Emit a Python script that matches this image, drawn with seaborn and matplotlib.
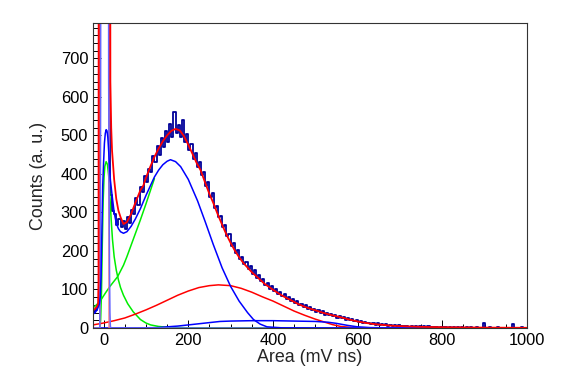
import matplotlib
matplotlib.use("Agg")
import matplotlib.pyplot as plt
from matplotlib.ticker import MultipleLocator
import numpy as np
import pandas as pd
import seaborn as sns

# histogram: 5 mV ns bins from -25 to 1000
bin_lo, bin_hi, bin_w = -25, 1000, 5
counts = [
    42, 47, 60, 1500, 3000, 3000, 3000, 1800, 345, 305,
    296, 268, 284, 262, 279, 258, 288, 272, 306, 297,
    338, 320, 366, 352, 395, 380, 414, 404, 446, 430,
    472, 449, 493, 470, 512, 482, 531, 497, 560, 506,
    528, 496, 540, 484, 503, 462, 478, 438, 455, 418,
    430, 398, 405, 370, 378, 340, 350, 312, 318, 288,
    292, 262, 268, 240, 244, 214, 220, 196, 203, 180,
    185, 165, 172, 152, 160, 141, 150, 131, 137, 121,
    128, 112, 118, 101, 108, 96, 102, 88, 94, 82,
    88, 76, 81, 70, 75, 64, 69, 59, 63, 55,
    59, 50, 54, 46, 50, 42, 47, 39, 43, 35,
    39, 33, 36, 30, 33, 27, 31, 25, 28, 22,
    25, 20, 23, 17, 20, 15, 18, 13, 16, 12,
    14, 10, 13, 9, 12, 8, 11, 7, 10, 6,
    9, 5, 8, 5, 7, 4, 6, 4, 6, 3,
    5, 3, 5, 2, 4, 3, 4, 2, 4, 2,
    3, 2, 3, 1, 3, 2, 2, 1, 3, 1,
    2, 1, 2, 1, 3, 1, 2, 1, 2, 1,
    1, 2, 1, 1, 14, 1, 1, 2, 1, 1,
    1, 2, 1, 1, 1, 1, 1, 1, 11, 1,
    1, 1, 2, 1, 1,
]

# total fit (red)
tot_x = [-25, -20, -15, -13, -12, -11, 15, 16, 18, 20, 25, 30, 35, 40, 47, 55, 65, 75, 87, 94,
         100, 110, 120, 130, 140, 150, 160, 170, 180, 190, 200, 210, 220, 229, 240, 250, 259,
         270, 280, 290, 300, 310, 320, 330, 340, 350, 360, 370, 380, 394, 410, 425, 441, 460,
         480, 500, 520, 540, 560, 580, 600, 620, 640, 660, 680, 700, 750, 800, 850, 900, 1000]
tot_y = [46, 50, 57, 64, 120, 2000, 2000, 640, 520, 460, 385, 335, 305, 288, 270, 275, 296, 325, 358, 370,
         390, 418, 444, 466, 485, 500, 512, 517, 513, 498, 476, 452, 428, 410, 377, 348, 325,
         294, 268, 243, 221, 201, 184, 169, 157, 145, 135, 125, 115, 104, 92, 82, 73, 62,
         53, 46, 39, 33, 28, 22, 17, 13, 10, 8, 6, 5, 3, 2, 1.5, 1, 0.5]

# main signal component (blue)
sig_x = [-25, -20, -15, -10, -8, -6, -4, -2, 0, 2, 4, 6, 8, 10, 12, 14, 16, 20, 25, 30, 35, 40,
         47, 55, 65, 75, 87, 100, 110, 120, 130, 140, 150, 158, 170, 182, 200, 222, 240, 259,
         280, 300, 320, 340, 354, 370, 386, 420, 500, 1000]
sig_y = [36, 40, 48, 62, 80, 130, 250, 370, 430, 480, 505, 515, 512, 495, 460, 420, 385, 345, 300, 272, 258, 250,
         246, 250, 264, 283, 310, 344, 368, 392, 410, 424, 433, 437, 432, 419, 386, 330, 276, 217,
         156, 108, 70, 40, 22, 10, 3, 0.5, 0, 0]

# second gaussian (red)
g2_x = [-25, 0, 25, 50, 75, 100, 125, 150, 175, 200, 225, 250, 271, 300, 325, 350, 375, 400,
        425, 450, 475, 500, 520, 540, 560, 580, 600, 650, 700, 1000]
g2_y = [8, 13, 19, 26, 36, 47, 59, 72, 85, 96, 105, 110, 112, 110, 103, 93, 81, 70,
        57, 44, 33, 23, 16, 9, 4, 2, 1, 0.3, 0, 0]

# rising tail (green)
rise_x = [-25, -15, -5, 5, 15, 25, 33, 40, 47, 55, 65, 75, 87, 100, 110, 120]
rise_y = [52, 62, 75, 92, 108, 122, 133, 148, 163, 185, 215, 245, 281, 322, 355, 388]

# single p.e. peak (green)
spe_x = [-25, -12, -9, -7, -5, -3, -1, 1, 3, 6, 9, 12, 15, 18, 21, 25, 30, 35, 40, 47, 57, 70,
         87, 100, 111, 130, 150, 200, 300, 1000]
spe_y = [0.3, 0.3, 2, 20, 90, 220, 330, 390, 420, 432, 425, 395, 340, 280, 230, 185, 150, 125, 105, 85, 63, 42,
         22, 13, 8, 4, 2, 0.5, 0.3, 0.3]

# pedestal components
ped_x = [-25, -9, -8, -7, -6, 11, 12, 13, 14, 15, 16, 17, 1000]
ped_y = [0, 0, 150, 600, 2000, 2000, 650, 350, 150, 40, 5, 0, 0]
pink_x = [-25, -9, -7.5, 12, 13]
pink_y = [0, 0, 2000, 2000, 0]

# broad small component (blue)
sb_x = [-25, 100, 127, 150, 175, 200, 225, 250, 275, 300, 350, 400, 450, 500, 530, 550, 575, 600, 630, 700, 1000]
sb_y = [0, 0.5, 1, 3, 5, 8, 11, 14, 17, 18, 19, 19, 18, 17, 15, 12, 7, 3, 1, 0.3, 0]

# flat background (olive)
bg_x = [245, 1000]
bg_y = [0.8, 0.8]

centers = bin_lo + bin_w / 2 + bin_w * np.arange(len(counts))
hist_df = pd.DataFrame({"area": centers, "counts": counts})

sns.set_theme(style="white")
plt.rcParams['font.family'] = ['Liberation Sans', 'DejaVu Sans']

fig = plt.figure(figsize=(5.67, 3.87), dpi=100)
ax = fig.add_axes([93 / 567, 1 - 328 / 387, (527 - 93) / 567, (328 - 23) / 387])

sns.histplot(data=hist_df, x="area", weights="counts", binwidth=bin_w, binrange=(bin_lo, bin_hi),
             element="step", fill=False, color="#000099", linewidth=1.3, ax=ax)

lw = 1.1
sns.lineplot(x=bg_x, y=bg_y, color="#999900", linewidth=lw, ax=ax, sort=False)
sns.lineplot(x=rise_x, y=rise_y, color="#00ee00", linewidth=lw, ax=ax, sort=False)
sns.lineplot(x=spe_x, y=spe_y, color="#00ee00", linewidth=lw, ax=ax, sort=False)
sns.lineplot(x=g2_x, y=g2_y, color="#ff0000", linewidth=lw, ax=ax, sort=False)
sns.lineplot(x=sb_x, y=sb_y, color="#0000ff", linewidth=lw, ax=ax, sort=False)
sns.lineplot(x=pink_x, y=pink_y, color="#ff7777", linewidth=lw, ax=ax, sort=False)
sns.lineplot(x=ped_x, y=ped_y, color="#6666ff", linewidth=lw, ax=ax, sort=False)
sns.lineplot(x=sig_x, y=sig_y, color="#0000ff", linewidth=lw, ax=ax, sort=False)
sns.lineplot(x=tot_x, y=tot_y, color="#ff0000", linewidth=1.3, ax=ax, sort=False)

ax.set_xlim(-25, 1000)
ax.set_ylim(0, 792)
ax.xaxis.set_major_locator(MultipleLocator(200))
ax.xaxis.set_minor_locator(MultipleLocator(50))
ax.yaxis.set_major_locator(MultipleLocator(100))
ax.yaxis.set_minor_locator(MultipleLocator(20))
ax.tick_params(axis="both", which="both", direction="in", colors="black", labelsize=11.8,
               bottom=True, left=True, top=False, right=False, width=0.7)
ax.tick_params(axis="x", which="major", length=6, pad=3.5)
ax.tick_params(axis="x", which="minor", length=2.7)
ax.tick_params(axis="y", which="major", length=6, pad=3.5)
ax.tick_params(axis="y", which="minor", length=4.2)
for s in ax.spines.values():
    s.set_visible(True)
    s.set_color("#333333")
    s.set_linewidth(0.8)

ax.set_xlabel("Area (mV ns)", fontsize=12.9)
ax.set_ylabel("Counts (a. u.)", fontsize=12.9)
ax.xaxis.set_label_coords(0.5, -0.07)
ax.yaxis.set_label_coords(-0.106, 0.5)

fig.savefig("out.png", dpi=100, facecolor="white")
